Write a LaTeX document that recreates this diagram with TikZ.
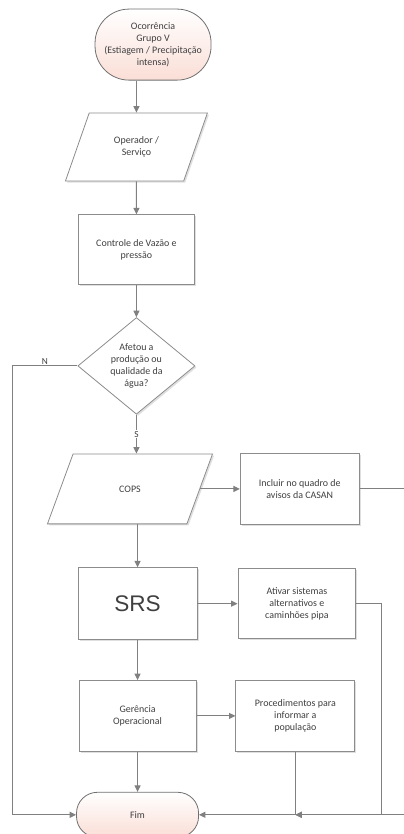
\documentclass[tikz,border=0pt]{standalone}
\usepackage{fontspec}
\setmainfont{Carlito}
\newfontfamily\srsfont{Liberation Sans}
\usepackage{tikz}
\usetikzlibrary{shapes.geometric, arrows.meta, positioning, calc, shadows}
\definecolor{linegray}{RGB}{128, 128, 128}
\definecolor{boxborder}{RGB}{140, 140, 140}
\definecolor{textgray}{RGB}{64, 64, 64}
\definecolor{termpink}{RGB}{250, 222, 214}
\tikzset{
  font=\fontsize{7.5}{9}\selectfont,
  node distance=1cm and 1cm,
  baseblock/.style={
    rectangle, draw=boxborder, line width=0.6pt, fill=white,
    text=textgray, align=center, inner sep=2pt,
    drop shadow={opacity=0.25, shadow xshift=1.2pt, shadow yshift=-1.2pt}
  },
  procblock/.style={baseblock, minimum width=3.1cm, minimum height=1.88cm},
  sideblock/.style={baseblock, minimum width=3.15cm, minimum height=1.88cm},
  ioblock/.style={
    baseblock, trapezium, trapezium left angle=64, trapezium right angle=116,
    trapezium stretches=true
  },
  decisionblock/.style={baseblock, diamond, inner sep=0pt},
  termblock/.style={
    rectangle, draw=boxborder!80!black, line width=0.6pt,
    top color=white, bottom color=termpink, text=textgray,
    align=center, inner sep=0pt
  },
  flowline/.style={
    draw=linegray, -{Triangle[length=1.7mm, width=1.6mm]}, line width=0.7pt
  },
  branchlabel/.style={font=\fontsize{7}{8}\selectfont, text=textgray, inner sep=1pt}
}

\begin{document}
\begin{tikzpicture}

  \useasboundingbox (0,0) rectangle (10.69,-22.07);

  % Main column
  \node[termblock, minimum width=3.07cm, minimum height=1.88cm, rounded corners=0.9cm] (start) at (4.05,-1.18) {
    Ocorrência\\
    Grupo V\\
    (Estiagem / Precipitação\\
    intensa)
  };

  \node[ioblock, below=0.85cm of start, xshift=-0.44cm, minimum width=3.76cm, minimum height=1.8cm] (oper) {
    Operador /\\Serviço
  };

  \node[procblock, below=0.87cm of oper, minimum width=3.07cm, minimum height=1.85cm] (ctrl) {
    Controle de Vazão e\\pressão
  };

  \node[decisionblock, below=0.85cm of ctrl, minimum width=3.1cm, minimum height=2.46cm] (decide) {
    Afetou a\\produção ou\\qualidade da\\água?
  };

  \node[ioblock, below=1.03cm of decide, xshift=-0.17cm, minimum width=4.37cm, minimum height=1.85cm,
        trapezium left angle=63, trapezium right angle=117] (cops) {COPS};

  \node[procblock, below=1.14cm of cops, xshift=0.2cm, minimum width=3.15cm, minimum height=1.9cm,
        font=\srsfont\fontsize{17}{20}\selectfont] (srs) {SRS};

  \node[procblock, below=1.06cm of srs] (gerencia) {
    Gerência\\Operacional
  };

  \node[termblock, below=1.06cm of gerencia, minimum width=3.23cm, minimum height=1.19cm, rounded corners=0.55cm] (fim) {Fim};

  % Side actions
  \node[sideblock, right=1.05cm of cops] (quadro) {
    Incluir no quadro de\\avisos da CASAN
  };
  \node[sideblock, right=1.06cm of srs, minimum width=3.12cm, minimum height=1.85cm] (ativar) {
    Ativar sistemas\\alternativos e\\caminhões pipa
  };
  \node[sideblock, right=1.03cm of gerencia] (informar) {
    Procedimentos para\\informar a\\população
  };

  % Flows
  \draw[flowline] (start.south -| oper.north) -- (oper.north);
  \draw[flowline] (oper) -- (ctrl);
  \draw[flowline] (ctrl) -- (decide);
  \draw[flowline] (decide.south) -- node[branchlabel, fill=white] {S} (decide.south |- cops.north);
  \draw[flowline] (cops.south -| srs.north) -- (srs.north);
  \draw[flowline] (srs) -- (gerencia);
  \draw[flowline] (gerencia) -- (fim);
  \draw[flowline] (decide.west) -- node[branchlabel, above] {N} ++(-1.72,0) |- (fim.west);

  % Side flows
  \draw[flowline] (cops.east) -- (quadro.west);
  \draw[flowline] (srs) -- (ativar);
  \draw[flowline] (gerencia) -- (informar);
  \draw[flowline] (informar.south) |- (fim.east);
  \draw[flowline] (quadro.east) -- ++(1.19,0) |- (informar.south |- fim.east);
  \draw[flowline] (ativar.east) -- ++(0.66,0) |- (informar.south |- fim.east);

\end{tikzpicture}
\end{document}
